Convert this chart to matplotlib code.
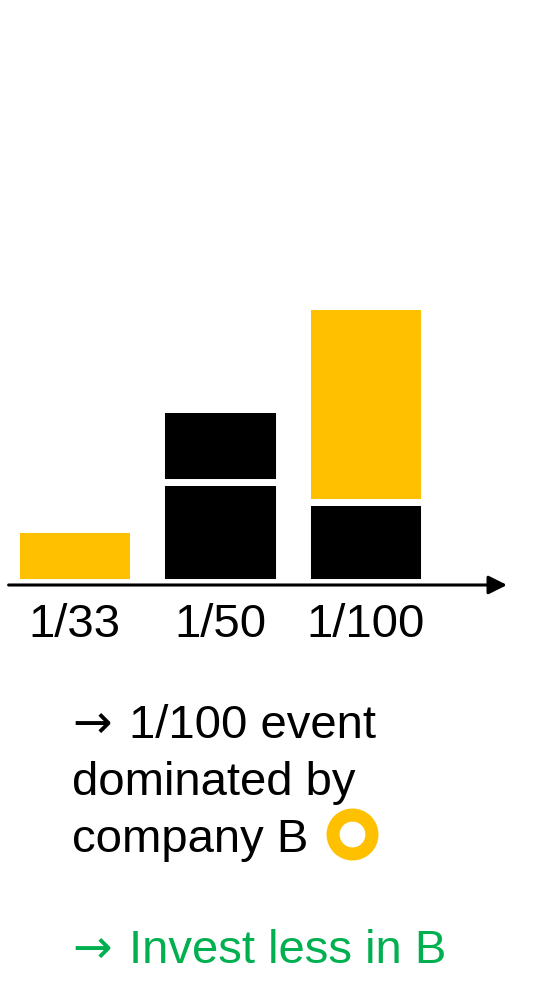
import matplotlib
matplotlib.use("Agg")
import matplotlib.pyplot as plt
import numpy as np

plt.rcParams['font.family'] = ['Liberation Sans', 'DejaVu Sans']

# Data (arbitrary loss units)
return_periods = ["1/33", "1/50", "1/100"]
company_a_black = [0, 100, 80]      # bottom black segments
other_black = [0, 73, 0]            # second black segment (1/50)
company_b_yellow = [53, 0, 196]     # yellow segments (company B)

YELLOW = "#FFC000"
BLACK = "#000000"
GREEN = "#00B050"

W, H = 557, 1002
fig = plt.figure(figsize=(W / 100, H / 100), dpi=100)
fig.patch.set_facecolor("white")

# axes: 1 data unit = 1 px vertically
ax_bottom_px = 582.2
ymax = 300
ax = fig.add_axes([0, 1 - ax_bottom_px / H, 1, ymax / H])
x = np.arange(len(return_periods))
spacing = 145.5
ax.set_xlim(-74.5 / spacing, (W - 74.5) / spacing)
ax.set_ylim(0, ymax)

bw = 0.81
ew = 5.0
a = np.array(company_a_black)
o = np.array(other_black)
b = np.array(company_b_yellow)
ax.bar(x, a, width=bw, color=BLACK, edgecolor="white", linewidth=ew, zorder=2)
ax.bar(x, o, bottom=a, width=bw, color=BLACK, edgecolor="white", linewidth=ew, zorder=2)
ax.bar(x, b, bottom=a + o, width=bw, color=YELLOW, edgecolor="white", linewidth=ew, zorder=2)

for s in ax.spines.values():
    s.set_visible(False)
ax.set_yticks([])
ax.set_xticks(x)
ax.set_xticklabels(return_periods, fontsize=34)
ax.tick_params(axis="x", length=0, pad=15)
ax.patch.set_alpha(0)

# axis arrow
ay = -2.8 / ymax
ax.annotate("", xy=(507 / W, ay), xytext=(8.6 / W, ay),
            xycoords="axes fraction", textcoords="axes fraction",
            arrowprops=dict(arrowstyle="-|>,head_length=0.8,head_width=0.4",
                            mutation_scale=14, lw=2.2, color="black",
                            shrinkA=0, shrinkB=0),
            annotation_clip=False, zorder=5)

# annotation text
tx = 72 / W
tx2 = 129 / W
fs = 34
arrow_font = ['DejaVu Sans']
fig.text(tx, 1 - 738 / H, "→", fontsize=fs, va="baseline", ha="left", family=arrow_font)
fig.text(tx2, 1 - 738 / H, "1/100 event", fontsize=fs, va="baseline", ha="left")
fig.text(tx, 1 - 795 / H, "dominated by", fontsize=fs, va="baseline", ha="left")
fig.text(tx, 1 - 852 / H, "company B", fontsize=fs, va="baseline", ha="left")
fig.text(tx, 1 - 963 / H, "→", fontsize=fs, va="baseline", ha="left",
         color=GREEN, family=arrow_font)
fig.text(tx2, 1 - 963 / H, "Invest less in B", fontsize=fs, va="baseline",
         ha="left", color=GREEN)

# yellow ring marker
fig.add_artist(plt.Line2D([352 / W], [1 - 834 / H], marker="o", markersize=28,
                          markerfacecolor="white", markeredgecolor=YELLOW,
                          markeredgewidth=9.4, transform=fig.transFigure))

fig.savefig("out.png", dpi=100)
